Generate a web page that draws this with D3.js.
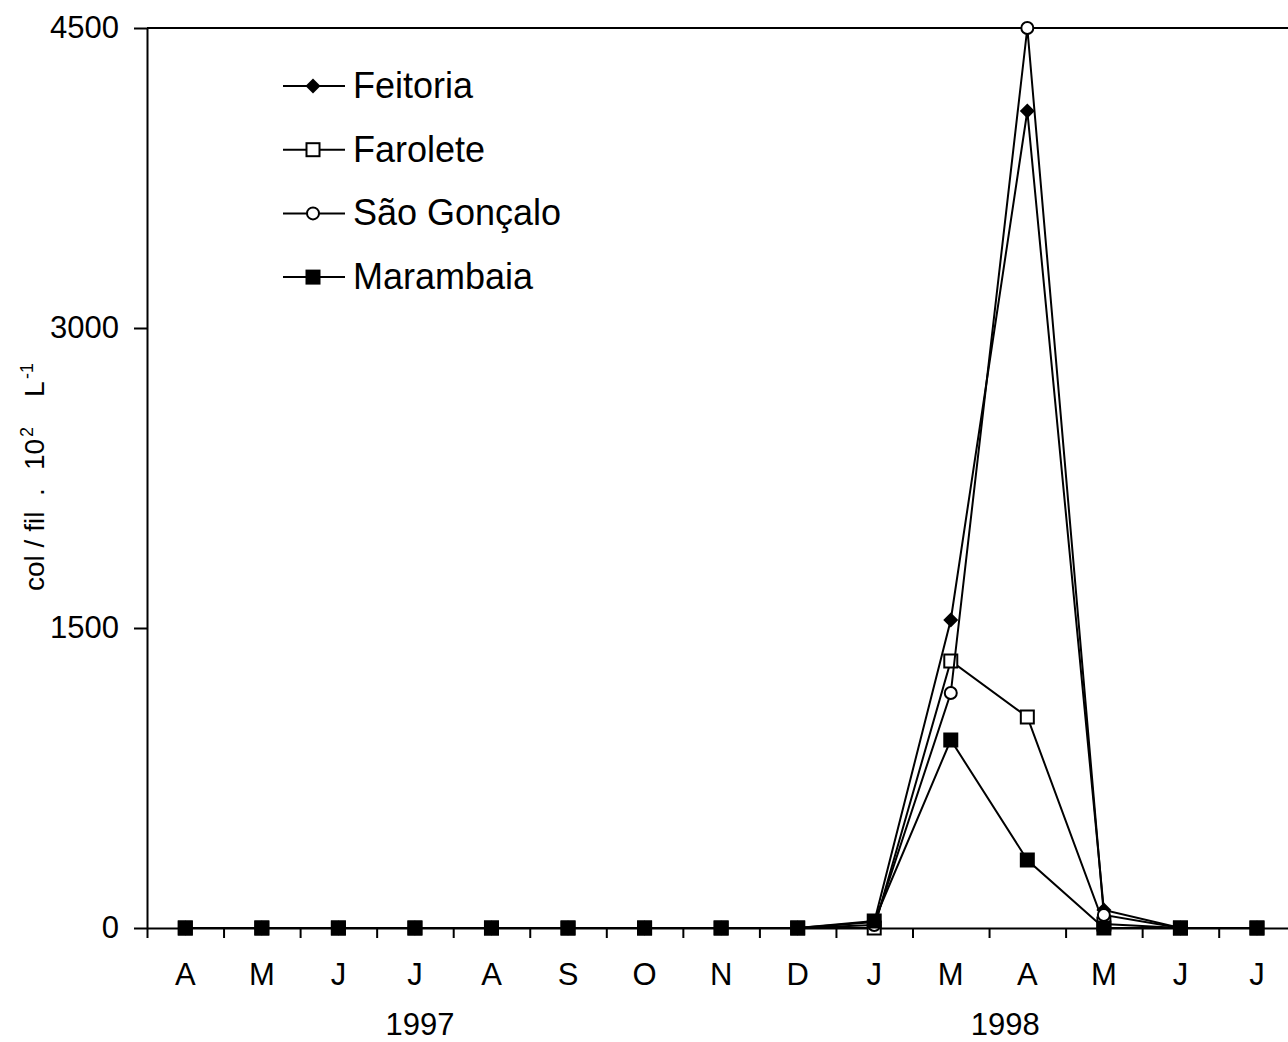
<!DOCTYPE html>
<html>

<head>
  <script type="text/javascript" src="https://cdn.jsdelivr.net/npm/d3@7/dist/d3.min.js"></script>
  <style>
    body { margin: 0; background: #fff; }
    svg { font-family: "Liberation Sans", Arial, sans-serif; }
  </style>
</head>

<body>
  <svg width="1288" height="1042"></svg>
</body>
<script>
  // months (Feb 1998 not sampled)
  const months = ['A', 'M', 'J', 'J', 'A', 'S', 'O', 'N', 'D', 'J', 'M', 'A', 'M', 'J', 'J'];
  const years = ['1997', '1998'];
  const yTicks = [0, 1500, 3000, 4500];

  const feitoria = [0, 0, 0, 0, 0, 0, 0, 0, 0, 30, 1540, 4085, 90, 0, 0];
  const farolete = [0, 0, 0, 0, 0, 0, 0, 0, 0, 0, 1335, 1055, 20, 0, 0];
  const saoGoncalo = [0, 0, 0, 0, 0, 0, 0, 0, 0, 15, 1175, 4500, 65, 0, 0];
  const marambaia = [0, 0, 0, 0, 0, 0, 0, 0, 0, 35, 940, 340, 0, 0, 0];

  const series = [
    { name: 'Feitoria', values: feitoria, shape: 'diamond' },
    { name: 'Farolete', values: farolete, shape: 'openSquare' },
    { name: 'São Gonçalo', values: saoGoncalo, shape: 'openCircle' },
    { name: 'Marambaia', values: marambaia, shape: 'square' }
  ];

  const plotLeft = 147, plotTop = 28, plotBottom = 928;
  const step = 76.55;
  const plotRight = plotLeft + step * months.length;
  const font = '"Liberation Sans", Arial, sans-serif';

  const svg = d3.select('svg');

  const idx = months.map((m, i) => i);
  const xScale = d3.scaleBand().domain(idx).range([plotLeft, plotRight]);
  const xEdge = d3.scaleLinear().domain([0, months.length]).range([plotLeft, plotRight]);
  const yScale = d3.scaleLinear().domain([0, 4500]).range([plotBottom, plotTop]);
  const xMid = i => xScale(i) + xScale.bandwidth() / 2;

  // top frame line
  svg.append('line')
    .attr('x1', plotLeft).attr('x2', plotRight)
    .attr('y1', yScale(4500)).attr('y2', yScale(4500))
    .attr('stroke', '#000').attr('stroke-width', 2);

  // y axis
  const yAxis = svg.append('g')
    .attr('transform', `translate(${plotLeft},0)`)
    .call(d3.axisLeft(yScale).tickValues(yTicks).tickFormat(d3.format('d'))
      .tickSize(13).tickSizeOuter(0).tickPadding(15));
  yAxis.selectAll('path, line').attr('stroke', '#000').attr('stroke-width', 2);
  yAxis.selectAll('text').attr('font-size', 31).attr('fill', '#000').attr('font-family', font);

  // x axis: ticks between months
  const xAxis = svg.append('g')
    .attr('transform', `translate(0,${plotBottom})`)
    .call(d3.axisBottom(xEdge).tickValues(d3.range(0, months.length)).tickSize(10).tickSizeOuter(0).tickFormat(''));
  xAxis.selectAll('path, line').attr('stroke', '#000').attr('stroke-width', 2);

  // month labels
  const xLab = svg.append('g')
    .attr('transform', `translate(0,${plotBottom})`)
    .call(d3.axisBottom(xScale).tickSize(0).tickFormat(i => months[i]));
  xLab.select('.domain').remove();
  xLab.selectAll('text')
    .attr('y', 57).attr('dy', 0)
    .attr('font-size', 31).attr('fill', '#000').attr('font-family', font);

  // year labels
  svg.append('text')
    .attr('x', xMid(3) + 5)
    .attr('y', 1035)
    .attr('text-anchor', 'middle')
    .attr('font-size', 31)
    .text(years[0]);
  svg.append('text')
    .attr('x', xMid(11) - 22)
    .attr('y', 1035)
    .attr('text-anchor', 'middle')
    .attr('font-size', 31)
    .text(years[1]);

  // y axis title
  const yt = svg.append('text')
    .attr('transform', 'rotate(-90)')
    .attr('y', 44)
    .attr('font-size', 28);
  yt.append('tspan').attr('x', -591).text('col / fil');
  yt.append('tspan').attr('x', -496).text('.');
  yt.append('tspan').attr('x', -470).text('10');
  yt.append('tspan').attr('x', -437).attr('dy', -11).attr('font-size', 18).text('2');
  yt.append('tspan').attr('x', -397).attr('dy', 11).text('L');
  yt.append('tspan').attr('x', -379).attr('dy', -11).attr('font-size', 18).text('-1');

  // markers
  function drawMarker(g, shape, x, y) {
    if (shape === 'diamond') {
      g.append('path')
        .attr('d', `M${x},${y - 7.5}L${x + 7.5},${y}L${x},${y + 7.5}L${x - 7.5},${y}Z`)
        .attr('fill', '#000');
    } else if (shape === 'openSquare') {
      g.append('rect')
        .attr('x', x - 6.5).attr('y', y - 6.5).attr('width', 13).attr('height', 13)
        .attr('fill', '#fff').attr('stroke', '#000').attr('stroke-width', 2);
    } else if (shape === 'openCircle') {
      g.append('circle')
        .attr('cx', x).attr('cy', y).attr('r', 6)
        .attr('fill', '#fff').attr('stroke', '#000').attr('stroke-width', 2);
    } else {
      g.append('rect')
        .attr('x', x - 7.5).attr('y', y - 7.5).attr('width', 15).attr('height', 15)
        .attr('fill', '#000');
    }
  }

  const line = d3.line()
    .x((d, i) => xMid(i))
    .y(d => yScale(d));

  series.forEach(s => {
    const g = svg.append('g');
    g.append('path')
      .attr('d', line(s.values))
      .attr('fill', 'none')
      .attr('stroke', '#000')
      .attr('stroke-width', 2);
    s.values.forEach((v, i) => drawMarker(g, s.shape, xMid(i), yScale(v)));
  });

  // legend
  const legend = svg.append('g');
  series.forEach((s, i) => {
    const y = 86 + i * 63.7;
    legend.append('line')
      .attr('x1', 283).attr('x2', 345)
      .attr('y1', y).attr('y2', y)
      .attr('stroke', '#000').attr('stroke-width', 2);
    drawMarker(legend, s.shape, 313, y);
    legend.append('text')
      .attr('x', 353)
      .attr('y', y + 12)
      .attr('font-size', 36)
      .text(s.name);
  });
</script>

</html>
